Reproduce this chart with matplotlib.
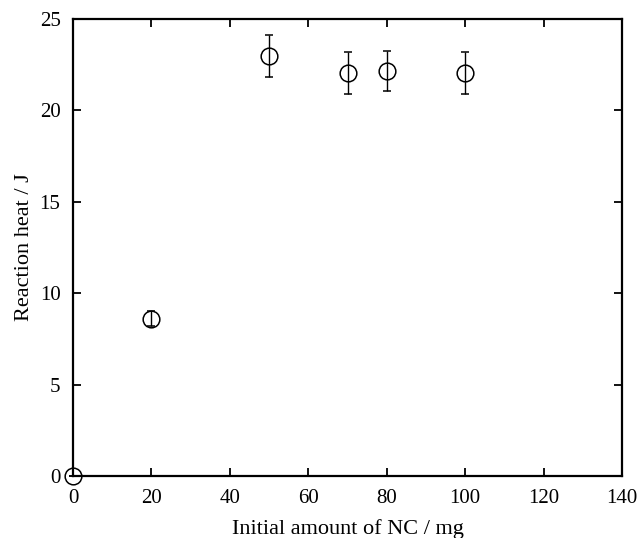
import matplotlib
matplotlib.use("Agg")
import matplotlib.pyplot as plt

# data
nc_mass = [0, 20, 50, 70, 80, 100]
heat = [0.0, 8.6, 23.0, 22.05, 22.15, 22.05]
heat_err = [0.0, 0.4, 1.15, 1.13, 1.11, 1.13]

plt.rcParams['font.family'] = ['Liberation Serif', 'DejaVu Serif']

fig = plt.figure(figsize=(6.37, 5.38), dpi=100)
ax = fig.add_axes([0.1146, 0.1152, 0.862, 0.8495])

ax.errorbar(nc_mass, heat, yerr=heat_err, fmt='o', mfc='none', mec='black',
            ms=12, mew=1.1, ecolor='black', elinewidth=1.0, capsize=3,
            capthick=1.0, clip_on=False, zorder=3)

ax.set_xlim(0, 140)
ax.set_ylim(0, 25)
ax.set_xticks(range(0, 141, 20))
ax.set_yticks(range(0, 26, 5))

for s in ax.spines.values():
    s.set_linewidth(1.6)
ax.tick_params(direction='in', length=6, width=1.3, top=True, right=True,
               labelsize=15, pad=9)

ax.set_xlabel('Initial amount of NC / mg', fontsize=16, labelpad=8)
ax.set_ylabel('Reaction heat / J', fontsize=16, labelpad=4)

fig.savefig('out.png', dpi=100)
